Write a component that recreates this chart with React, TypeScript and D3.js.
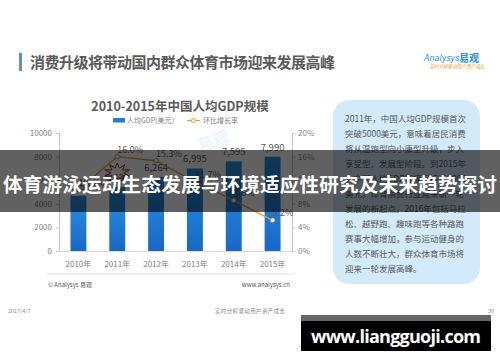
import * as d3 from 'd3'
import { useEffect, useRef } from 'react'

const years = ['2010年', '2011年', '2012年', '2013年', '2014年', '2015年']
const gdpValues = [4682, 5431, 6264, 6995, 7595, 7990]
const growthRates = [10.4, 16.0, 15.3, 11.7, 8.6, 5.2]
const leftTicks = [0, 2000, 4000, 6000, 8000, 10000]
const rightTicks = [0, 4, 8, 12, 16, 20]

const slideTitle = '消费升级将带动国内群众体育市场迎来发展高峰'
const chartTitle = '2010-2015年中国人均GDP规模'
const legendLabels = ['人均GDP(美元）', '环比增长率']
const bannerText = '体育游泳运动生态发展与环境适应性研究及未来趋势探讨'
const panelLines = [
  '2011年，中国人均GDP规模首次',
  '突破5000美元，意味着居民消费',
  '将从温饱型向小康型升级，步入',
  '享受型、发展型阶段。到2015年',
  '，中国人均GDP规模已接近8000',
  '美元，体育消费行业迎来新一轮',
  '发展的新起点。2016年包括马拉',
  '松、越野跑、趣味跑等各种路跑',
  '赛事大幅增加，参与运动健身的',
  '人数不断壮大，群众体育市场将',
  '迎来一轮发展高峰。',
]

const FONT = '"Noto Sans CJK SC", "Noto Sans", sans-serif'
const LINE_COLOR = '#dba23a'

export default function App() {
  const axesRef = useRef<SVGGElement>(null)

  const top = 133, bottom = 251, left = 59, right = 292
  const x = d3.scaleBand().domain(years).range([left, right]).paddingInner(0.59).paddingOuter(0.295)
  const yL = d3.scaleLinear().domain([0, 10000]).range([bottom, top])
  const yR = d3.scaleLinear().domain([0, 20]).range([bottom, top])
  const cx = (i: number) => (x(years[i]) as number) + x.bandwidth() / 2

  const line = d3.line<number>()
    .x((d, i) => cx(i))
    .y(d => yR(d))

  useEffect(() => {
    const g = d3.select(axesRef.current)
    g.selectAll('*').remove()

    const la = g.append('g').attr('transform', `translate(${left},0)`)
      .call(d3.axisLeft(yL).tickValues(leftTicks).tickSize(3).tickPadding(4).tickFormat(d3.format('d')))
    const ra = g.append('g').attr('transform', `translate(${right},0)`)
      .call(d3.axisRight(yR).tickValues(rightTicks).tickSize(3).tickPadding(3).tickFormat(d => d + '%'))
    const ba = g.append('g').attr('transform', `translate(0,${bottom})`)
      .call(d3.axisBottom(x).tickSize(0).tickPadding(10))

    for (const a of [la, ra, ba]) {
      a.selectAll('path.domain').attr('stroke', '#c8c8c8')
      a.selectAll('line').attr('stroke', '#c8c8c8')
      a.selectAll('text').attr('fill', '#7f7f7f').attr('font-size', 8).attr('font-family', FONT)
    }
    ba.selectAll('path.domain').attr('stroke', '#d9d9d9')
  }, [])

  // starburst callout near the 2011 bar
  const burst = d3.range(20).map(k => {
    const a = (k / 20) * Math.PI * 2 - Math.PI / 2
    const r = k % 2 === 0 ? 10 : 5
    return [cx(1) + Math.cos(a) * r * 1.3, yL(gdpValues[1]) - 14 + Math.sin(a) * r].join(',')
  }).join(' ')

  return (
    <svg width={500} height={362} style={{ position: 'absolute', left: 0, top: 0, background: '#fff' }}
      fontFamily={FONT}>
      <defs>
        <linearGradient id="barGrad" x1="0" y1="0" x2="0" y2="1">
          <stop offset="0%" stopColor="#2a91e2" />
          <stop offset="100%" stopColor="#1868c6" />
        </linearGradient>
        <linearGradient id="accent" x1="0" y1="0" x2="0" y2="1">
          <stop offset="0%" stopColor="#3a9be0" />
          <stop offset="100%" stopColor="#8a8a8a" />
        </linearGradient>
      </defs>
      <rect width={500} height={362} fill="#fff" />

      {/* slide header */}
      <rect x={19} y={53} width={3} height={18} fill="url(#accent)" />
      <text x={30} y={68} fontSize={15} fontWeight={700} fill="#5a5a5a" textLength={305}>{slideTitle}</text>
      <text x={424} y={61} fontSize={8} fontStyle="italic" fill="#2a8fd8" fontFamily="DejaVu Sans">Analysys</text>
      <text x={459} y={62} fontSize={10} fontWeight={700} fill="#2a8fd8">易观</text>
      <text x={430} y={68} fontSize={4.5} fill="#f09a30" textLength={55}>实时分析驱动用户资产成长</text>

      {/* chart title and legend */}
      <text x={180} y={111} textAnchor="middle" fontSize={12.5} fontWeight={700} fill="#5a5a5a">{chartTitle}</text>
      <rect x={113} y={118} width={12} height={4.5} fill="#1f7fd4" />
      <text x={127} y={123} fontSize={7} fill="#7f7f7f">{legendLabels[0]}</text>
      <line x1={187} x2={200} y1={120.5} y2={120.5} stroke={LINE_COLOR} strokeWidth={1.2} />
      <circle cx={193.5} cy={120.5} r={2} fill="#fff" stroke={LINE_COLOR} strokeWidth={1} />
      <text x={203} y={123} fontSize={7} fill="#7f7f7f">{legendLabels[1]}</text>

      {/* faint watermark */}
      <text x={200} y={152} fontSize={16} fontWeight={700} fill="#d8eaf7" opacity={0.45} transform="rotate(-20,200,152)">易观</text>

      <g ref={axesRef} />

      {/* bars */}
      {gdpValues.map((v, i) => (
        <rect key={years[i]} x={x(years[i])} y={yL(v)} width={x.bandwidth()} height={bottom - yL(v)} fill="url(#barGrad)" />
      ))}
      {gdpValues.map((v, i) => (
        <text key={'l' + i} x={cx(i)} y={yL(v) - 6} textAnchor="middle" fontSize={9.5} fill="#595959">{d3.format(',')(v)}</text>
      ))}

      <polygon points={burst} fill="none" stroke="#b22a2a" strokeWidth={1} />

      {/* growth line */}
      <path d={line(growthRates) || ''} fill="none" stroke={LINE_COLOR} strokeWidth={1.3} />
      {growthRates.map((v, i) => (
        <circle key={'c' + i} cx={cx(i)} cy={yR(v)} r={2.3} fill="#fff" stroke="#a08860" strokeWidth={0.8} />
      ))}
      {growthRates.map((v, i) => (
        <text key={'p' + i} x={cx(i)} y={yR(v) - 4} fontSize={9} fill="#595959">{v.toFixed(1)}%</text>
      ))}

      {/* chart footer */}
      <line x1={47} x2={295} y1={274} y2={274} stroke="#dcdcdc" strokeWidth={0.8} />
      <text x={48} y={287} fontSize={6} fill="#555">© Analysys 易观</text>
      <text x={290} y={287} fontSize={6} fill="#555" textAnchor="end">www.analysys.cn</text>

      {/* side panel */}
      <rect x={333} y={100} width={147} height={184} rx={16} fill="#d3eafa" />
      {panelLines.map((t, i) => (
        <text key={'t' + i} x={345} y={122 + i * 15} fontSize={8.5} fill="#595959">{t}</text>
      ))}

      {/* page footer */}
      <text x={8} y={313} fontSize={5.5} fill="#8a8a8a">2017/4/7</text>
      <text x={215} y={313} fontSize={5.5} fill="#8a8a8a" textLength={70}>实时分析驱动用户资产成长</text>
      <text x={494} y={313} fontSize={5.5} fill="#8a8a8a" textAnchor="end">30</text>

      {/* overlay banner */}
      <rect x={0} y={150} width={500} height={62} fill="#000" opacity={0.62} />
      <text x={250} y={192} textAnchor="middle" fontSize={19.5} fontWeight={700} fill="#fff" textLength={494}>{bannerText}</text>

      {/* site badge */}
      <rect x={301} y={315} width={190} height={6} fill="#666" />
      <rect x={301} y={321} width={190} height={30} fill="#000" />
      <text x={396} y={343} textAnchor="middle" fontSize={18} fontWeight={700} fill="#fff"
        fontFamily='"Open Sans", "DejaVu Sans", sans-serif' textLength={170}>www.liangguoji.com</text>
    </svg>
  )
}
